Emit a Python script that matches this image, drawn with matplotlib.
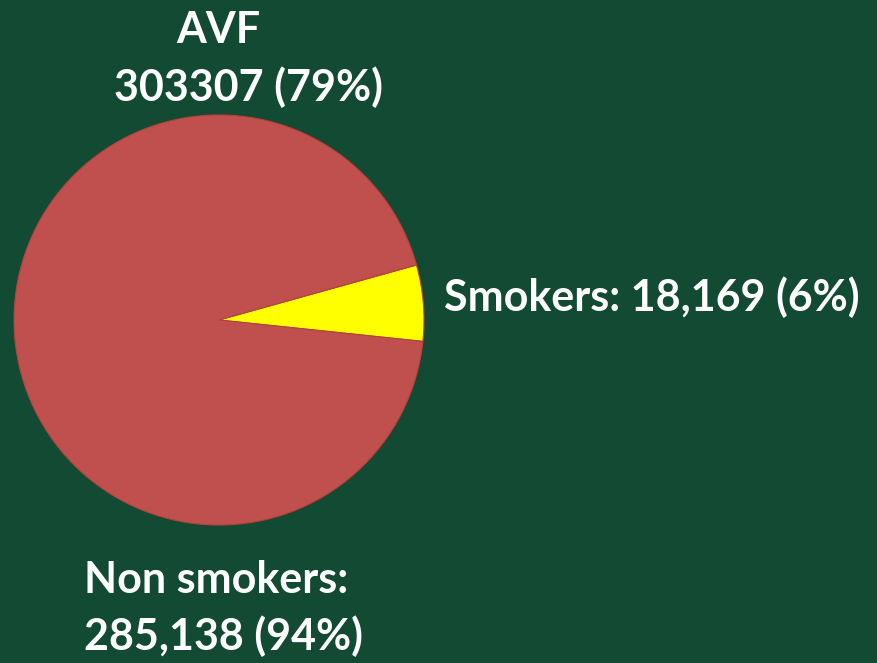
import matplotlib.pyplot as plt

# data
labels = ["Smokers", "Non smokers"]
values = [18169, 285138]
pcts = ["6%", "94%"]
total_label = "AVF"
total_value = 303307
total_pct = "79%"
colors = ["#FFFF00", "#C0504D"]

bg = "#124A34"
plt.rcParams['font.family'] = ['Lato', 'DejaVu Sans']

fig = plt.figure(figsize=(8.77, 6.63), dpi=100)
fig.patch.set_facecolor(bg)
ax = fig.add_axes([0, 0, 1, 1])
ax.set_facecolor(bg)
ax.set_xlim(0, 877)
ax.set_ylim(663, 0)
ax.set_aspect('equal')
ax.axis('off')

# pie drawn in pixel-like coords (y axis inverted, so go clockwise)
ax.pie(values, colors=colors, center=(219, 320), radius=205,
       startangle=6, counterclock=False, frame=True,
       wedgeprops=dict(edgecolor="#B8403C", linewidth=0.8))
ax.set_xlim(0, 877)
ax.set_ylim(663, 0)
ax.axis('off')

tkw = dict(color="white", fontweight="bold", fontsize=31)
ax.text(218, 30, total_label, ha="center", va="center", **tkw)
ax.text(249, 87, f"{total_value} ({total_pct})", ha="center", va="center", **tkw)
ax.text(444, 297, f"{labels[0]}: {values[0]:,} ({pcts[0]})", ha="left", va="center", **tkw)
ax.text(84, 580, f"{labels[1]}:", ha="left", va="center", **tkw)
ax.text(84, 636, f"{values[1]:,} ({pcts[1]})", ha="left", va="center", **tkw)

plt.savefig("out.png", dpi=100, facecolor=bg)
